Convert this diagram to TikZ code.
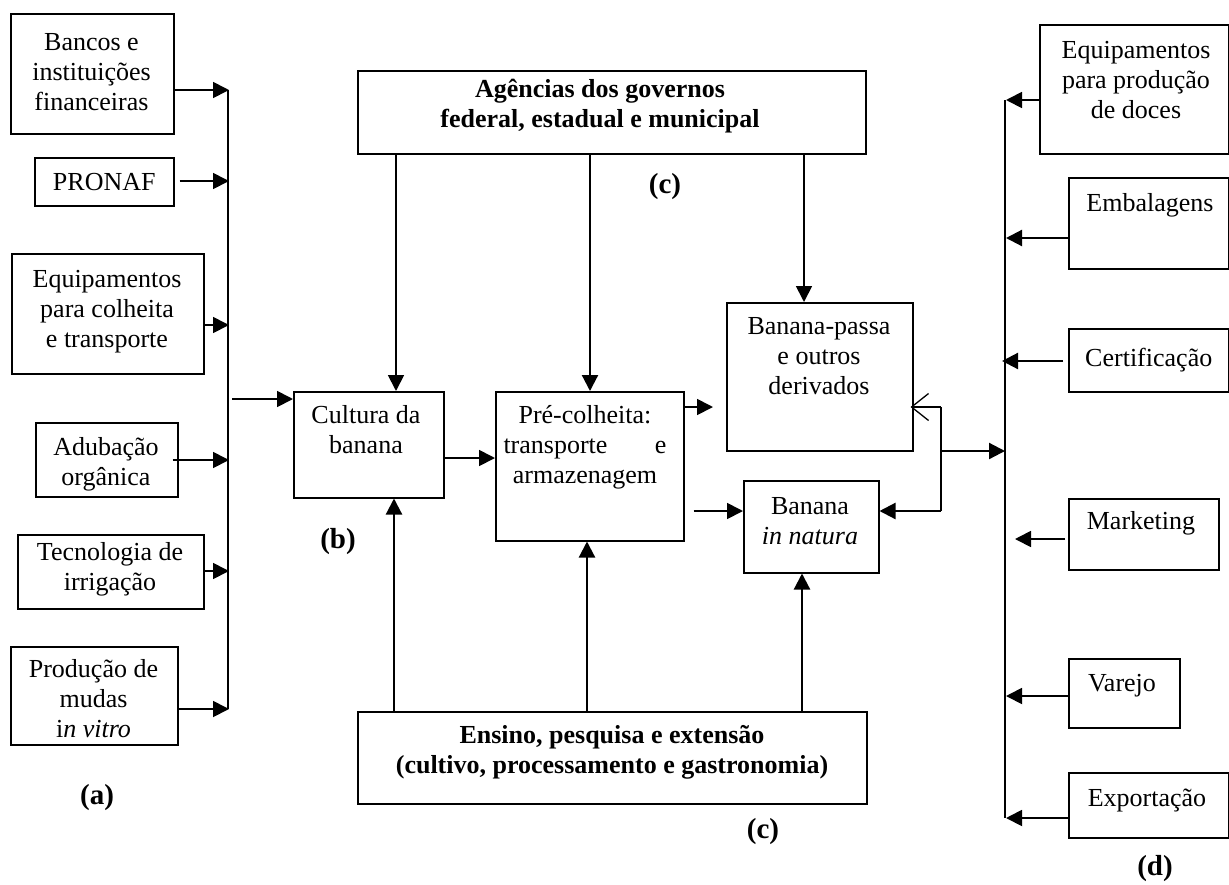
\documentclass[tikz,border=0pt]{standalone}
\usepackage{fontspec}
\setmainfont{Liberation Serif}
\usetikzlibrary{arrows.meta}
\newcommand\mystrut{\rule{0pt}{24pt}}
\begin{document}
\begin{tikzpicture}[x=1pt,y=-1pt,
  box/.style={draw, line width=1.5pt, inner sep=0pt, anchor=north west},
  txt/.style={inner sep=0pt, align=center, font=\fontsize{26}{30}\selectfont, anchor=north},
  btxt/.style={txt, font=\fontsize{26}{30}\selectfont\bfseries},
  ctxt/.style={inner sep=0pt, align=center, font=\fontsize{26}{30}\selectfont},
  lbl/.style={inner sep=0pt, font=\fontsize{29}{32}\selectfont\bfseries},
  arr/.style={line width=1.8pt, -{Triangle[length=16pt,width=16pt]}},
  ln/.style={line width=1.8pt},
]
\useasboundingbox (0,0) rectangle (1229,884);

% ---------- left column ----------
\node[box, minimum width=163pt, minimum height=120pt] (bancos) at (10,13) {};
\node[txt] (bancos-t) at (91.5,26) {\mystrut Bancos e\\instituições\\financeiras};
\node[box, minimum width=139pt, minimum height=48pt] (pronaf) at (34,157) {};
\node[ctxt] (pronaf-t) at (pronaf.center) {PRONAF};
\node[box, minimum width=192pt, minimum height=120pt] (equip) at (11,253) {};
\node[txt] (equip-t) at (107,263) {\mystrut Equipamentos\\para colheita\\e transporte};
\node[box, minimum width=142pt, minimum height=74pt] (adub) at (35,422) {};
\node[txt] (adub-t) at (106,431) {\mystrut Adubação\\orgânica};
\node[box, minimum width=186pt, minimum height=74pt] (tec) at (17,534) {};
\node[txt] (tec-t) at (110,536) {\mystrut Tecnologia de\\irrigação};
\node[box, minimum width=167pt, minimum height=98pt] (prod) at (10,646) {};
\node[txt] (prod-t) at (93.5,653) {\mystrut Produção de\\mudas\\i\textit{n vitro}};

\coordinate (b1) at (229,90);
\coordinate (b2) at (229,181);
\coordinate (b3) at (229,325);
\coordinate (b4) at (229,460);
\coordinate (b5) at (229,571);
\coordinate (b6) at (229,709);
\coordinate (lbtop) at (228,90);
\coordinate (lbbot) at (228,709);
\draw[ln] (lbtop) -- (lbbot);
\draw[arr] (bancos.east |- b1) -- (b1);
\draw[arr] ([xshift=5pt]pronaf.east |- b2) -- (b2);
\draw[arr] (equip.east |- b3) -- (b3);
\draw[arr] ([xshift=-6pt]adub.east |- b4) -- (b4);
\draw[arr] (tec.east |- b5) -- (b5);
\draw[arr] (prod.east |- b6) -- (b6);

% ---------- middle ----------
\node[box, minimum width=508pt, minimum height=83pt] (agen) at (357,70) {};
\node[btxt] (agen-t) at (600,73) {\mystrut Agências dos governos\\federal, estadual e municipal};
\node[box, minimum width=150pt, minimum height=106pt] (cult) at (293,391) {};
\node[txt] (cult-t) at (366,399) {\mystrut Cultura da\\banana};
\node[box, minimum width=188pt, minimum height=149pt] (pre) at (495,391) {};
\node[txt] (pre-t) at (585,399) {\mystrut Pré-colheita:\\\makebox[163pt][s]{transporte e}\\armazenagem};
\node[box, minimum width=186pt, minimum height=148pt] (passa) at (726,302) {};
\node[txt] (passa-t) at (819,310) {\mystrut Banana-passa\\e outros\\derivados};
\node[box, minimum width=135pt, minimum height=92pt] (natura) at (743,480) {};
\node[txt] (natura-t) at (810,490) {\mystrut Banana\\\textit{in natura}};
\node[box, minimum width=509pt, minimum height=92pt] (ensino) at (357,711) {};
\node[btxt] (ensino-t) at (612,719) {\mystrut Ensino, pesquisa e extensão\\(cultivo, processamento e gastronomia)};

\coordinate (cin) at (232,399);
\draw[arr] (cin) -- (cult.west |- cin);

\coordinate (xc1) at (396,0);
\coordinate (xp1) at (590,0);
\coordinate (xb1) at (804,0);
\coordinate (xc2) at (394,0);
\coordinate (xp2) at (587,0);
\coordinate (xn2) at (802,0);
\draw[arr] (agen.south -| xc1) -- (cult.north -| xc1);
\draw[arr, line width=2.2pt] (agen.south -| xp1) -- (pre.north -| xp1);
\draw[arr] (agen.south -| xb1) -- (passa.north -| xb1);
\draw[arr, line width=2.2pt] (ensino.north -| xc2) -- (cult.south -| xc2);
\draw[arr, line width=2.2pt] (ensino.north -| xp2) -- (pre.south -| xp2);
\draw[arr, line width=2.2pt] (ensino.north -| xn2) -- (natura.south -| xn2);

\coordinate (ycp) at (0,458);
\draw[arr] (cult.east |- ycp) -- (pre.west |- ycp);

\coordinate (jtop) at (941,407);
\coordinate (jmid) at (941,451);
\coordinate (jbot) at (941,511);
\draw[arr] (pre.east |- jtop) -- ([xshift=-13pt]passa.west |- jtop);
\draw[arr] ([xshift=9pt]pre.east |- jbot) -- (natura.west |- jbot);
\draw[line width=1.5pt] (jtop) -- (jbot);
\draw[line width=1.3pt, -{Straight Barb[length=17pt,width=27pt]}] (jtop) -- ([xshift=-3pt]passa.east |- jtop);
\draw[arr, line width=2.2pt] (jbot) -- (natura.east |- jbot);

% ---------- right column ----------
\node[box, minimum width=189pt, minimum height=129pt] (doces) at (1039,24) {};
\node[txt] (doces-t) at (1136,34) {\mystrut Equipamentos\\para produção\\de doces};
\node[box, minimum width=160pt, minimum height=91pt] (emb) at (1068,177) {};
\node[txt] (emb-t) at (1150,187) {\mystrut Embalagens};
\node[box, minimum width=160pt, minimum height=63pt] (cert) at (1068,328) {};
\node[ctxt] (cert-t) at (cert.center) {Certificação};
\node[box, minimum width=150pt, minimum height=71pt] (mkt) at (1068,498) {};
\node[txt] (mkt-t) at (1141,505) {\mystrut Marketing};
\node[box, minimum width=111pt, minimum height=69pt] (var) at (1068,658) {};
\node[txt] (var-t) at (1122,667) {\mystrut Varejo};
\node[box, minimum width=160pt, minimum height=65pt] (exp) at (1068,772) {};
\node[txt] (exp-t) at (1147,782) {\mystrut Exportação};

\coordinate (rtop) at (1005,100);
\coordinate (rbot) at (1005,818);
\draw[ln] (rtop) -- (rbot);
\coordinate (r1) at (1006,100);
\coordinate (r2) at (1006,238);
\coordinate (r3) at (1002,361);
\coordinate (r4) at (1015,539);
\coordinate (r5) at (1006,696);
\coordinate (r6) at (1006,818);
\coordinate (rin) at (1005,451);
\draw[arr] (doces.west |- r1) -- (r1);
\draw[arr, line width=2.2pt] (emb.west |- r2) -- (r2);
\draw[arr, line width=2.2pt] ([xshift=-5pt]cert.west |- r3) -- (r3);
\draw[arr] ([xshift=-3pt]mkt.west |- r4) -- (r4);
\draw[arr] (var.west |- r5) -- (r5);
\draw[arr] (exp.west |- r6) -- (r6);
\draw[arr, line width=2.2pt] (jmid) -- (rin);

% ---------- labels ----------
\node[lbl] (la) at (97,798) {(a)};
\node[lbl] (lb) at (338,542) {(b)};
\node[lbl] (lc1) at (665,187) {(c)};
\node[lbl] (lc2) at (763,832) {(c)};
\node[lbl] (ld) at (1155,869) {(d)};
\end{tikzpicture}
\end{document}
